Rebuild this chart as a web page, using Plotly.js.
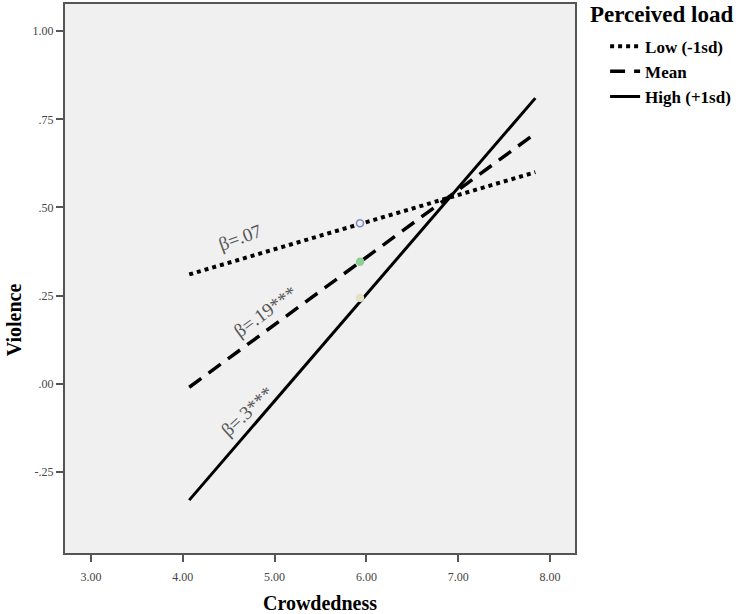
<!DOCTYPE html>
<html>
<head>
<meta charset="utf-8">
<script src="https://cdn.plot.ly/plotly-3.0.1.min.js"></script>
<style>
  body { margin: 0; background: #ffffff; }
  #chart { width: 750px; height: 614px; }
</style>
</head>
<body>
<div id="chart"></div>
<script>
// crowdedness range covered by the simple slopes
var crowd = [4.07, 7.84];

// predicted violence at low / mean / high perceived load
var lowLoad = [0.31, 0.60];
var meanLoad = [-0.01, 0.71];
var highLoad = [-0.33, 0.81];

// marked points at crowdedness ~5.93
var pointX = [5.93, 5.93, 5.93];
var pointY = [0.455, 0.346, 0.244];

var seriesNames = ["Low (-1sd)", "Mean", "High (+1sd)"];
var betaLabels = ["β=.07", "β=.19***", "β=.3***"];
var betaX = [4.62, 4.90, 4.70];
var betaY = [0.415, 0.205, -0.08];
var betaAngle = [-20, -36, -43];

var xTicks = [3, 4, 5, 6, 7, 8];
var xTickText = ["3.00", "4.00", "5.00", "6.00", "7.00", "8.00"];
var yTicks = [1, 0.75, 0.5, 0.25, 0, -0.25];
var yTickText = ["1.00", ".75", ".50", ".25", ".00", "-.25"];

var serif = "Liberation Serif, Times New Roman, serif";

var data = [
    {
        x: crowd, y: lowLoad, name: seriesNames[0],
        type: "scatter", mode: "lines",
        line: { color: "#000000", width: 4, dash: "dot" }
    },
    {
        x: crowd, y: meanLoad, name: seriesNames[1],
        type: "scatter", mode: "lines",
        line: { color: "#000000", width: 3.5, dash: "15px,9px" }
    },
    {
        x: crowd, y: highLoad, name: seriesNames[2],
        type: "scatter", mode: "lines",
        line: { color: "#000000", width: 3 }
    },
    {
        x: pointX, y: pointY, type: "scatter", mode: "markers",
        showlegend: false, hoverinfo: "skip",
        marker: {
            size: 7,
            color: ["rgba(240,240,240,1)", "#8fcf95", "#e4e0c8"],
            line: { color: ["#7c87c8", "#8fcf95", "#e4e0c8"], width: 1.5 }
        }
    }
];

var annotations = [];
for (var i = 0; i < betaLabels.length; i++) {
    annotations.push({
        x: betaX[i], y: betaY[i], xref: "x", yref: "y",
        text: betaLabels[i], showarrow: false, textangle: betaAngle[i],
        font: { family: serif, size: 19, color: "#555555" }
    });
}
// y axis title
annotations.push({
    x: 0, xref: "paper", xanchor: "center", xshift: -51, y: 0.18, yref: "y",
    text: "<b>Violence</b>", showarrow: false, textangle: -90,
    font: { family: serif, size: 20, color: "#000000" }
});
// legend heading
annotations.push({
    x: 1, xref: "paper", xshift: 13, xanchor: "left",
    y: 1, yref: "paper", yshift: 4, yanchor: "top",
    text: "<b>Perceived load</b>", showarrow: false,
    font: { family: serif, size: 23, color: "#000000" }
});

var layout = {
    width: 750,
    height: 614,
    margin: { t: 4, b: 61, l: 65, r: 175 },
    paper_bgcolor: "#ffffff",
    plot_bgcolor: "#f0f0f0",
    showlegend: true,
    legend: {
        x: 1.059, xanchor: "left", y: 0.955, yanchor: "top",
        bgcolor: "rgba(0,0,0,0)",
        font: { family: serif, size: 17, color: "#000000", weight: "bold" },
        itemwidth: 30,
        tracegroupgap: 0
    },
    xaxis: {
        range: [2.717, 8.272],
        tickvals: xTicks, ticktext: xTickText,
        ticks: "outside", ticklen: 7, tickwidth: 2, tickcolor: "#555555",
        ticklabelstandoff: 5,
        showgrid: false, zeroline: false,
        showline: true, mirror: true, linecolor: "#555555", linewidth: 2,
        tickfont: { family: serif, size: 12, color: "#444444" },
        title: { text: "<b>Crowdedness</b>", standoff: 14, font: { family: serif, size: 20, color: "#000000" } }
    },
    yaxis: {
        range: [-0.48, 1.077],
        tickvals: yTicks, ticktext: yTickText,
        ticks: "outside", ticklen: 7, tickwidth: 2, tickcolor: "#555555",
        showgrid: false, zeroline: false,
        showline: true, mirror: true, linecolor: "#555555", linewidth: 2,
        tickfont: { family: serif, size: 12, color: "#444444" }
    },
    annotations: annotations
};

Plotly.newPlot("chart", data, layout, { staticPlot: true });
</script>
</body>
</html>
